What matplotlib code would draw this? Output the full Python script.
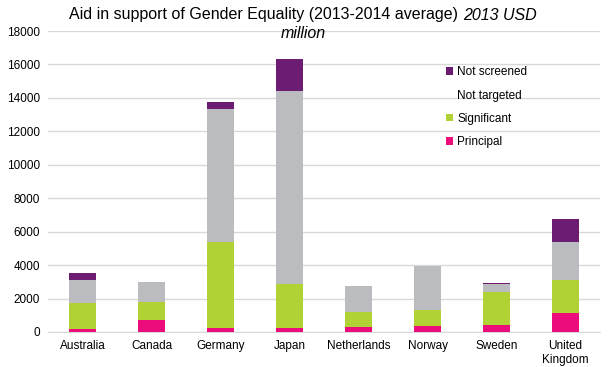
import numpy as np
import matplotlib.pyplot as plt
from matplotlib.patches import Patch

plt.rcParams['font.family'] = ['Liberation Sans', 'DejaVu Sans']

# Dados (milhões de USD, 2013)
countries = ['Australia', 'Canada', 'Germany', 'Japan', 'Netherlands',
             'Norway', 'Sweden', 'United\nKingdom']
principal = [160, 720, 240, 240, 300, 380, 420, 1140]
significant = [1560, 1090, 5160, 2650, 900, 940, 1990, 1990]
not_targeted = [1390, 1180, 7940, 11520, 1550, 2630, 460, 2250]
not_screened = [420, 0, 420, 1920, 0, 0, 60, 1380]

series = [('Principal', principal, '#EC0C7C'),
          ('Significant', significant, '#B0D235'),
          ('Not targeted', not_targeted, '#BBBCC0'),
          ('Not screened', not_screened, '#6C1D73')]

fig = plt.figure(figsize=(6.08, 3.67), dpi=100)
ax = fig.add_axes([0.079, 0.0954, 0.908, 0.8201])

x = np.arange(len(countries))
bottom = np.zeros(len(countries))
for name, vals, col in series:
    ax.bar(x, vals, 0.38, bottom=bottom, color=col, zorder=3)
    bottom += np.array(vals)

ax.set_xlim(-0.5, len(countries) - 0.5)
ax.set_ylim(0, 18000)
ax.set_yticks(range(0, 18001, 2000))
ax.set_xticks(x)
ax.set_xticklabels(countries)
ax.tick_params(length=0, labelsize=8.5, pad=6)
ax.yaxis.grid(True, color='#D9D9D9', linewidth=1, zorder=0)
for s in ['top', 'right', 'left']:
    ax.spines[s].set_visible(False)
ax.spines['bottom'].set_color('#D9D9D9')

# Legenda (ordem invertida, sem marcador para "Not targeted")
handles = [Patch(facecolor='#6C1D73'), Patch(facecolor='none', edgecolor='none'),
           Patch(facecolor='#B0D235'), Patch(facecolor='#EC0C7C')]
labels = ['Not screened', 'Not targeted', 'Significant', 'Principal']
fig.legend(handles, labels, loc='upper left', bbox_to_anchor=(0.725, 0.832),
           frameon=False, fontsize=8.5, handlelength=0.6, handleheight=0.6,
           handletextpad=0.4, labelspacing=0.95, borderaxespad=0)

# Título
fig.text(69 / 608, 1 - 15 / 367, 'Aid in support of Gender Equality (2013-2014 average)',
         fontsize=11.5, va='center', ha='left')
fig.text(463 / 608, 1 - 15 / 367, '2013 USD', fontsize=11.5, style='italic',
         va='center', ha='left')
fig.text(303 / 608, 1 - 33 / 367, 'million', fontsize=11.5, style='italic',
         va='center', ha='center')

fig.savefig('out.png', dpi=100)
